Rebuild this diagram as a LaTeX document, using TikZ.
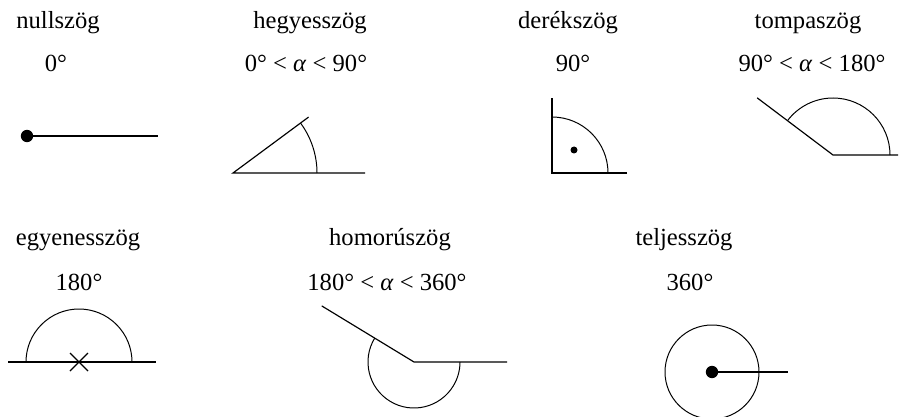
\documentclass[tikz,border=0pt]{standalone}
\usepackage{fontspec}
\setmainfont{Liberation Serif}
\usetikzlibrary{positioning}

\begin{document}
\begin{tikzpicture}[
  x=0.03cm, y=0.03cm,
  title/.style={anchor=base, inner sep=0pt,
                font=\fontsize{21}{25}\selectfont},
  deg/.style={anchor=base, inner sep=0pt,
              font=\fontsize{21}{25}\selectfont},
  leg/.style={line width=1pt, black},
  swing/.style={line width=0.85pt, black},
  pnt/.style={circle, fill=black, inner sep=0pt, minimum size=0.37cm}
]
\useasboundingbox (0,0) rectangle (903,416);
% Top row: names and measures
\node[title] (n0)  at (58, 387)  {nullszög};
\node[deg]   (d0)  at (56, 344)  {0°};
\node[title] (n1)  at (310, 387) {hegyesszög};
\node[deg]   (d1)  at (306, 344) {0° < \textit{α} < 90°};
\node[title] (n2)  at (568, 387) {derékszög};
\node[deg]   (d2)  at (573, 344) {90°};
\node[title] (n3)  at (808, 387) {tompaszög};
\node[deg]   (d3)  at (812, 344) {90° < \textit{α} < 180°};
% Bottom row: names and measures
\node[title] (n4)  at (78, 171)  {egyenesszög};
\node[deg]   (d4)  at (79, 126)  {180°};
\node[title] (n5)  at (390, 171) {homorúszög};
\node[deg]   (d5)  at (387, 126) {180° < \textit{α} < 360°};
\node[title] (n6)  at (684, 171) {teljesszög};
\node[deg]   (d6)  at (690, 126) {360°};
% Null angle
\node[pnt] (p0) at (27, 280) {};
\coordinate (e0) at (158, 280);
\draw[leg] (p0.center)--(e0);
% Acute angle
\coordinate (v1) at (233, 243);
\coordinate (e1) at (365, 243);
\draw[leg] (e1)--(v1)--++(36.5:94);
\draw[swing] ([shift={(84,0)}]v1) arc (0:36.5:84);
% Right angle
\coordinate (v2) at (552, 243);
\coordinate (e2) at (627, 243);
\draw[leg] (e2)--(v2)--++(0,75);
\draw[swing] ([shift={(56,0)}]v2) arc (0:90:56);
\node[pnt, minimum size=0.21cm] (p2) at (574, 266) {};
% Obtuse angle
\coordinate (v3) at (833, 261);
\coordinate (e3) at (898, 261);
\draw[leg] (e3)--(v3)--++(143:95);
\draw[swing] ([shift={(57,0)}]v3) arc (0:143:57);
% Straight angle
\coordinate (v4) at (79, 54);
\coordinate (s4) at (8, 54);
\coordinate (e4) at (156, 54);
\draw[leg] (s4)--(e4);
\draw[swing] ([shift={(53,0)}]v4) arc (0:180:53);
\draw[leg] ([shift={(-9,-9)}]v4)--([shift={(9,9)}]v4);
\draw[leg] ([shift={(-9,9)}]v4)--([shift={(9,-9)}]v4);
% Reflex angle
\coordinate (v5) at (414, 54);
\coordinate (e5) at (507, 54);
\draw[leg] (e5)--(v5)--++(148.7:108);
\draw[swing] ([shift={(148.7:46)}]v5) arc (148.7:360:46);
% Full angle
\node[pnt] (p6) at (712, 44) {};
\coordinate (e6) at (788, 44);
\draw[swing] (p6.center) circle (47);
\draw[leg] (p6.center)--(e6);
\end{tikzpicture}
\end{document}
